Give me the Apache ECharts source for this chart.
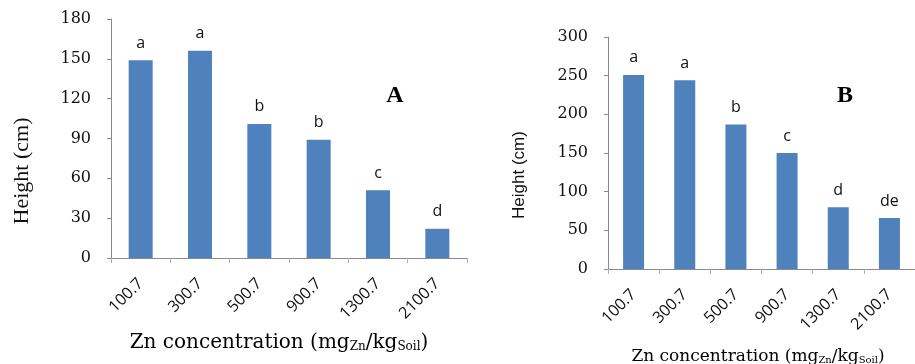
<!DOCTYPE html>
<html>
<head>
<meta charset="utf-8">
<script src="https://cdn.jsdelivr.net/npm/echarts@6/dist/echarts.min.js"></script>
<style>
  html, body { margin: 0; padding: 0; background: #ffffff; }
  #chart { width: 915px; height: 364px; }
</style>
</head>
<body>
<div id="chart"></div>
<script>
// Zn concentration treatments (mg Zn / kg soil)
const categories = ['100.7', '300.7', '500.7', '900.7', '1300.7', '2100.7'];

// Panel A: plant height (cm) with significance letters
const heightA = [149, 156, 101, 89, 51, 22];
const lettersA = ['a', 'a', 'b', 'b', 'c', 'd'];
const yTicksA = [0, 30, 60, 90, 120, 150, 180];

// Panel B: plant height (cm) with significance letters
const heightB = [251, 244, 187, 150, 80, 66];
const lettersB = ['a', 'a', 'b', 'c', 'd', 'de'];
const yTicksB = [0, 50, 100, 150, 200, 250, 300];

const BAR = '#4F81BD';
const AXIS = '#8a8a8a';
const SERIF = '"DejaVu Serif", "Liberation Serif", serif';
const SANS = '"Open Sans", "Liberation Sans", sans-serif';

function valueAxis(gridIndex, ticks) {
  return {
    type: 'value',
    gridIndex: gridIndex,
    min: ticks[0],
    max: ticks[ticks.length - 1],
    interval: ticks[1] - ticks[0],
    splitLine: { show: false },
    axisLine: { show: true, lineStyle: { color: AXIS, width: 1 } },
    axisTick: { show: true, length: 4, lineStyle: { color: AXIS } },
    axisLabel: { color: '#111', fontFamily: SERIF, fontSize: 16, margin: 20 }
  };
}

function categoryAxis(gridIndex) {
  return {
    type: 'category',
    gridIndex: gridIndex,
    data: categories,
    axisLine: { show: true, lineStyle: { color: AXIS, width: 1 } },
    axisTick: { show: true, length: 5, lineStyle: { color: '#b0b0b0' } },
    axisLabel: { color: '#111', fontFamily: SANS, fontSize: 16, rotate: 45, margin: 23, interval: 0 }
  };
}

function barSeries(index, values, letters, width) {
  return {
    type: 'bar',
    xAxisIndex: index,
    yAxisIndex: index,
    data: values,
    barWidth: width,
    itemStyle: { color: BAR },
    label: {
      show: true,
      position: 'top',
      distance: 9,
      color: '#111',
      fontFamily: SANS,
      fontSize: 16,
      formatter: function (p) { return letters[p.dataIndex]; }
    }
  };
}

const subRich = {
  n: { fontFamily: SERIF, fontSize: 20, lineHeight: 24, verticalAlign: 'bottom', color: '#111' },
  s: { fontFamily: SERIF, fontSize: 12, lineHeight: 12, verticalAlign: 'bottom', padding: [9, 0, 0, 0], color: '#111' }
};
const subRichB = {
  n: { fontFamily: SERIF, fontSize: 17, lineHeight: 21, verticalAlign: 'bottom', color: '#111' },
  s: { fontFamily: SERIF, fontSize: 10, lineHeight: 10, verticalAlign: 'bottom', padding: [8, 0, 0, 0], color: '#111' }
};
const xName = '{n|Zn concentration (mg}{s|Zn}{n|/kg}{s|Soil}{n|)}';

const chart = echarts.init(document.getElementById('chart'), null, { renderer: 'canvas' });
chart.setOption({
  animation: false,
  backgroundColor: '#ffffff',
  grid: [
    { left: 111, top: 19, width: 356, height: 239 },
    { left: 608, top: 37, width: 316, height: 232 }
  ],
  xAxis: [categoryAxis(0), categoryAxis(1)],
  yAxis: [valueAxis(0, yTicksA), valueAxis(1, yTicksB)],
  series: [
    barSeries(0, heightA, lettersA, 24),
    barSeries(1, heightB, lettersB, 21)
  ],
  graphic: [
    { type: 'text', x: 22, y: 171, rotation: Math.PI / 2,
      style: { text: 'Height (cm)', font: '22px "Liberation Serif", serif', fill: '#111', align: 'center', verticalAlign: 'middle' } },
    { type: 'text', x: 519, y: 175, rotation: Math.PI / 2,
      style: { text: 'Height (cm)', font: '17px "Liberation Sans", sans-serif', fill: '#111', align: 'center', verticalAlign: 'middle' } },
    { type: 'text', x: 279, y: 341,
      style: { text: xName, rich: subRich, align: 'center', verticalAlign: 'middle' } },
    { type: 'text', x: 758, y: 355,
      style: { text: xName, rich: subRichB, align: 'center', verticalAlign: 'middle' } },
    { type: 'text', x: 395, y: 96,
      style: { text: 'A', font: 'bold 24px "Liberation Serif", serif', fill: '#000', align: 'center', verticalAlign: 'middle' } },
    { type: 'text', x: 845, y: 96,
      style: { text: 'B', font: 'bold 24px "Liberation Serif", serif', fill: '#000', align: 'center', verticalAlign: 'middle' } }
  ]
});
</script>
</body>
</html>
